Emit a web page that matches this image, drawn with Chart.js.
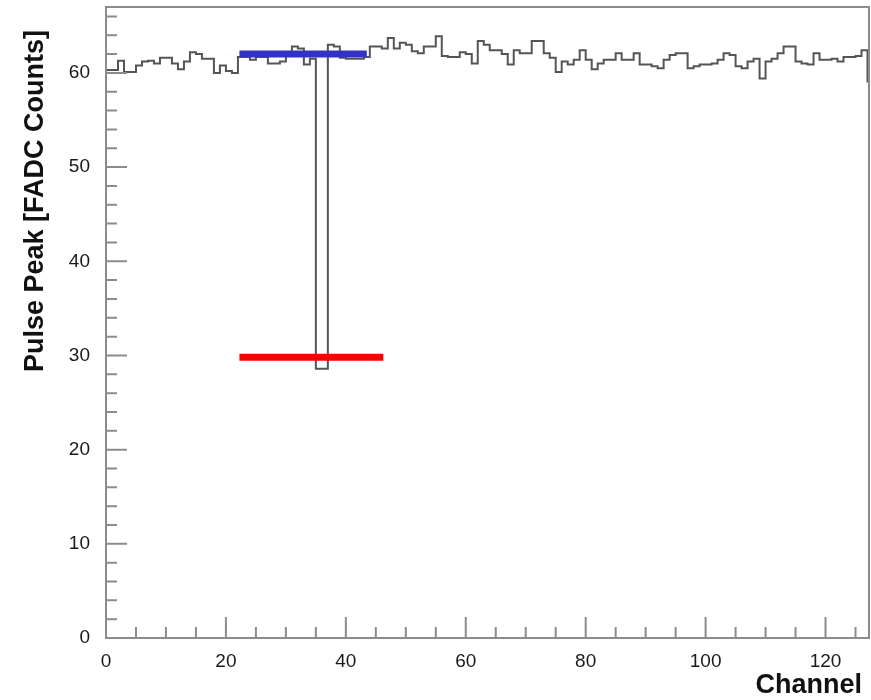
<!DOCTYPE html>
<html>
<head>
<meta charset="utf-8">
<title>Pulse Peak per Channel</title>
<script src="https://cdn.jsdelivr.net/npm/chart.js@4.4.1/dist/chart.umd.min.js"></script>
<style>
    html, body { margin: 0; padding: 0; background: #fff; }
    #wrap { width: 871px; height: 700px; }
</style>
</head>
<body>
<div id="wrap"><canvas id="chartJS" width="871" height="700"></canvas></div>
<script>
// pulse peak of each FADC channel (bin i covers channel i .. i+1)
const pulsePeak = [
    60.3, 60.3, 61.3, 60.1, 60.1, 60.8, 61.2, 61.3, 61.0, 61.6,
    61.6, 61.0, 60.4, 61.2, 62.2, 62.0, 61.5, 61.5, 60.0, 60.8,
    60.2, 60.0, 61.7, 61.7, 61.4, 61.7, 61.7, 61.0, 61.0, 61.2,
    62.0, 62.8, 62.6, 60.9, 61.5, 28.6, 28.6, 63.0, 62.8, 61.6,
    61.5, 61.5, 61.5, 61.7, 62.8, 62.8, 62.6, 63.7, 62.6, 63.2,
    63.0, 62.3, 62.1, 62.8, 62.8, 63.9, 61.8, 61.7, 61.7, 62.2,
    62.0, 61.0, 63.4, 63.0, 62.4, 62.4, 62.0, 60.9, 62.4, 62.1,
    62.1, 63.4, 63.4, 62.1, 61.6, 60.1, 61.2, 60.9, 61.4, 62.4,
    61.4, 60.4, 61.0, 61.4, 61.4, 62.1, 61.4, 61.4, 62.1, 60.9,
    60.9, 60.7, 60.5, 61.4, 61.9, 62.1, 62.1, 60.5, 60.7, 60.9,
    60.9, 61.0, 61.4, 62.1, 61.9, 60.7, 60.5, 61.2, 61.5, 59.4,
    61.2, 61.5, 62.1, 62.8, 62.8, 61.2, 61.0, 60.9, 62.1, 61.4,
    61.4, 61.5, 61.2, 61.7, 61.7, 61.8, 62.4, 59.1
];

// marker lines: [x start, x end], level
const upperRange = [22.25, 43.5];
const upperLevel = 62.0;
const lowerRange = [22.25, 46.25];
const lowerLevel = 29.8;

// axis ranges and ticks
const xMax = 127.25;
const yMax = 67;
const xMajor = [0, 20, 40, 60, 80, 100, 120];
const yMajor = [0, 10, 20, 30, 40, 50, 60];
const xMinorStep = 5;
const yMinorStep = 2;

const xTitle = "Channel";
const yTitle = "Pulse Peak [FADC Counts]";

const axisColor = "#8c8c8c";
const labelFont = { family: "'Liberation Sans', Arial, sans-serif", size: 19 };
const titleFont = "bold 27px 'Liberation Sans', Arial, sans-serif";

// histogram edges: one point per bin low edge, plus closing edge
const histPoints = pulsePeak.map((v, i) => ({ x: i, y: v }));
histPoints.push({ x: pulsePeak.length, y: pulsePeak[pulsePeak.length - 1] });

// frame, inward ticks and axis titles, ROOT style
const framePlugin = {
    id: "frame",
    afterDatasetsDraw: (chart) => {
        const ctx = chart.ctx;
        const area = chart.chartArea;
        const xs = chart.scales.x;
        const ys = chart.scales.y;
        ctx.save();
        ctx.strokeStyle = axisColor;
        ctx.lineWidth = 2;
        ctx.strokeRect(area.left, area.top, area.right - area.left, area.bottom - area.top);

        ctx.beginPath();
        for (let v = 0; v <= xMax; v += xMinorStep) {
            const px = xs.getPixelForValue(v);
            const len = xMajor.includes(v) ? 21 : 11;
            ctx.moveTo(px, area.bottom);
            ctx.lineTo(px, area.bottom - len);
        }
        for (let v = 0; v <= yMax; v += yMinorStep) {
            const py = ys.getPixelForValue(v);
            const len = yMajor.includes(v) ? 21 : 11;
            ctx.moveTo(area.left, py);
            ctx.lineTo(area.left + len, py);
        }
        ctx.stroke();

        ctx.fillStyle = "#111";
        ctx.font = titleFont;
        ctx.textAlign = "right";
        ctx.textBaseline = "alphabetic";
        ctx.fillText(xTitle, 862, 693);

        ctx.translate(43, 30);
        ctx.rotate(-Math.PI / 2);
        ctx.fillText(yTitle, 0, 0);
        ctx.restore();
    }
};

const ctx = document.getElementById("chartJS").getContext("2d");
const chart = new Chart(ctx, {
    type: "line",
    data: {
        datasets: [{
            label: "upper",
            data: [{ x: upperRange[0], y: upperLevel }, { x: upperRange[1], y: upperLevel }],
            borderColor: "#3232c8",
            borderWidth: 7,
            borderCapStyle: "butt",
            pointRadius: 0,
            order: 1
        }, {
            label: "lower",
            data: [{ x: lowerRange[0], y: lowerLevel }, { x: lowerRange[1], y: lowerLevel }],
            borderColor: "#ff0000",
            borderWidth: 7,
            borderCapStyle: "butt",
            pointRadius: 0,
            order: 1
        }, {
            label: "pulse peak",
            data: histPoints,
            // horizontal at the bin value first, then vertical at the next edge
            stepped: "before",
            borderColor: "#555555",
            borderWidth: 2,
            fill: false,
            pointRadius: 0,
            order: 2
        }]
    },
    options: {
        responsive: false,
        animation: false,
        layout: { padding: { top: 7, right: 2, left: 0, bottom: 0 } },
        plugins: {
            legend: { display: false },
            tooltip: { enabled: false }
        },
        scales: {
            x: {
                type: "linear",
                min: 0,
                max: xMax,
                afterFit: (s) => { s.height = 62; s.paddingLeft = 0; s.paddingRight = 0; },
                afterBuildTicks: (s) => { s.ticks = xMajor.map(v => ({ value: v })); },
                grid: { display: false, drawTicks: false },
                border: { display: false },
                ticks: { padding: 12, color: "#1a1a1a", font: labelFont, maxRotation: 0, autoSkip: false }
            },
            y: {
                type: "linear",
                min: 0,
                max: yMax,
                afterFit: (s) => { s.width = 106; s.paddingTop = 0; s.paddingBottom = 0; },
                afterBuildTicks: (s) => { s.ticks = yMajor.map(v => ({ value: v })); },
                grid: { display: false, drawTicks: false },
                border: { display: false },
                ticks: { padding: 16, color: "#1a1a1a", font: labelFont, autoSkip: false }
            }
        }
    },
    plugins: [framePlugin]
});
</script>
</body>
</html>
